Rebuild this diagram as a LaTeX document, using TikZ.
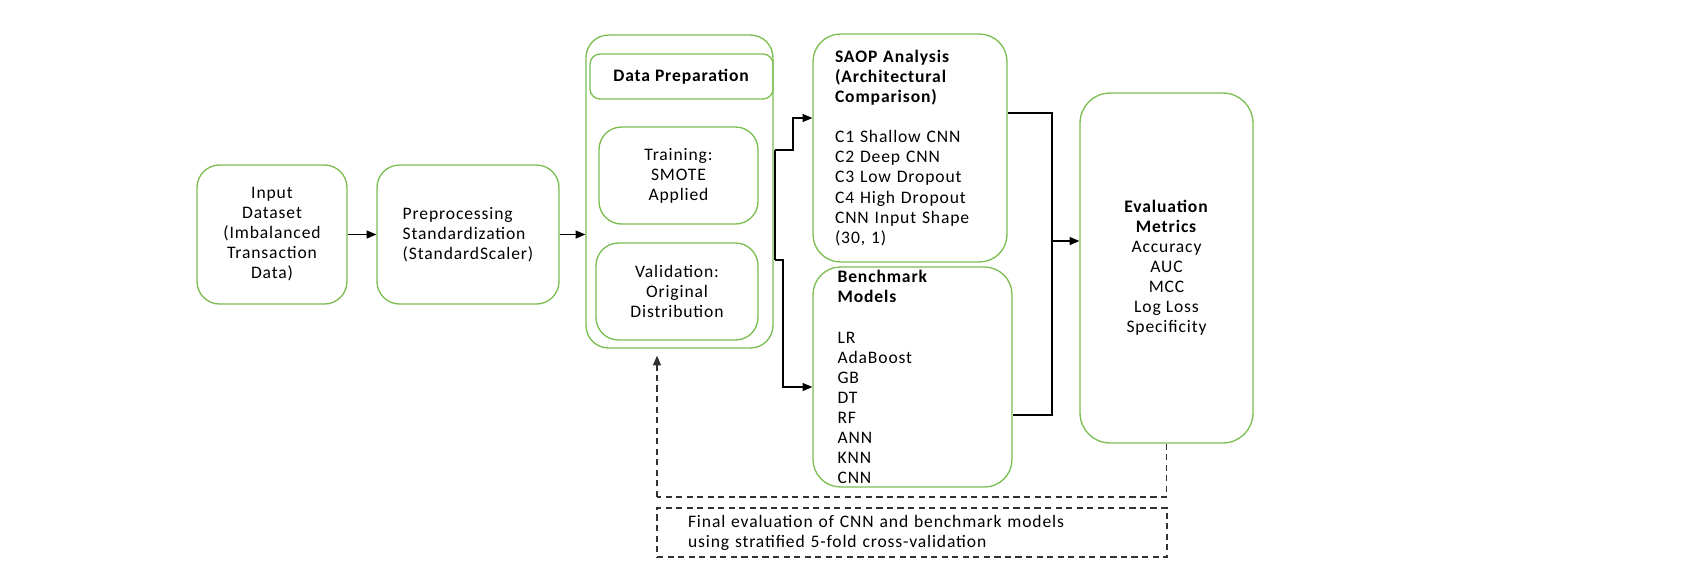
\documentclass[tikz,border=0pt]{standalone}
\usepackage{fontspec}
\setmainfont[LetterSpace=5]{Carlito}
\usetikzlibrary{arrows.meta}
\definecolor{boxgreen}{RGB}{122,190,80}
\definecolor{dashgray}{RGB}{50,50,50}

\begin{document}
\begin{tikzpicture}[x=0.02cm,y=-0.02cm,
	box/.style={draw=boxgreen,line width=0.75pt,rounded corners=0.45cm,align=center,inner sep=0pt,font=\fontsize{10}{11.4}\selectfont},
	wire/.style={draw=black,line width=0.7pt},
	link/.style={wire,-{Triangle[length=5.5pt,width=4.5pt]}},
	dashline/.style={draw=dashgray,line width=0.8pt,dash pattern=on 3.5pt off 2.5pt}]
	\useasboundingbox (0,0) rectangle (1687,566);
	\node[box,minimum width=3cm,minimum height=2.78cm] (input) at (272,234.5) {Input\\Dataset\\(Imbalanced\\Transaction\\Data)};
	\node[box,minimum width=3.64cm,minimum height=2.78cm,align=left] (prep) at (468,234.5) {Preprocessing\\Standardization\\(StandardScaler)};
	\node[box,minimum width=3.74cm,minimum height=6.26cm] (dp) at (679.5,191.5) {};
	\node[box,rounded corners=0.2cm,minimum width=3.66cm,minimum height=0.9cm] (dphead) at (681.5,76.5) {\textbf{Data Preparation}};
	\node[box,minimum width=3.18cm,minimum height=1.94cm] (train) at (678.5,175.5) {Training:\\SMOTE\\Applied};
	\node[box,minimum width=3.24cm,minimum height=1.94cm] (valid) at (677,291.5) {Validation:\\Original\\Distribution};
	\node[box,rounded corners=0.55cm,minimum width=3.88cm,minimum height=4.56cm,text width=3cm,align=left] (saop) at (910,148) {\textbf{SAOP Analysis}\\\textbf{(Architectural}\\\textbf{Comparison)}\\[11.4pt]C1 Shallow CNN\\C2 Deep CNN\\C3 Low Dropout\\C4 High Dropout\\CNN Input Shape\\(30, 1)};
	\node[box,rounded corners=0.55cm,minimum width=3.98cm,minimum height=4.4cm,text width=3cm,align=left] (bench) at (912.5,377) {\textbf{Benchmark}\\\textbf{Models}\\[11.4pt]LR\\AdaBoost\\GB\\DT\\RF\\ANN\\KNN\\CNN};
	\node[box,rounded corners=0.6cm,minimum width=3.46cm,minimum height=7cm] (eval) at (1166.5,268) {\textbf{Evaluation}\\\textbf{Metrics}\\Accuracy\\AUC\\MCC\\Log Loss\\Specificity};
	\node[dashline,draw,minimum width=10.2cm,minimum height=0.98cm,text width=8.96cm,align=left,inner sep=0pt,font=\fontsize{10}{11.4}\selectfont,text=black] (note) at (912,532.5) {Final evaluation of CNN and benchmark models\\using stratified 5-fold cross-validation};

	\coordinate (fork) at (775,150);
	\coordinate (forkb) at (775,260);
	\coordinate (join) at (1052,241);
	\coordinate (back) at (657,497);

	\draw[link] (input) -- (prep);
	\draw[link] (prep.east) -- (prep.east -| dp.west);
	\draw[wire] (fork) -- (forkb);
	\draw[link] (fork) -- ++(18,0) |- ([yshift=0.6cm]saop.west);
	\draw[link] (forkb) -- ++(8,0) |- ([yshift=-0.2cm]bench.west);
	\draw[wire] ([yshift=0.7cm]saop.east) -| (join) |- ([yshift=-0.76cm]bench.east);
	\draw[link] (join) -- (join -| eval.west);
	\draw[dashline] (eval.south) |- (back);
	\draw[dashline,-{Triangle[length=5.5pt,width=4.5pt]}] (back) -- ([yshift=-0.14cm]back |- dp.south);
\end{tikzpicture}
\end{document}
